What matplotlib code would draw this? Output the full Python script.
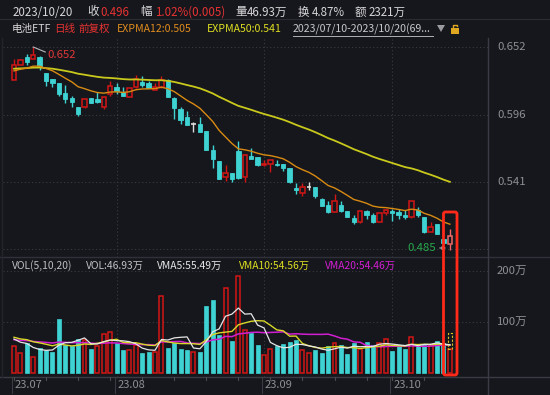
import matplotlib
matplotlib.use("Agg")
import matplotlib.pyplot as plt
import numpy as np
import pandas as pd
from matplotlib.patches import Rectangle, FancyBboxPatch, Polygon

plt.rcParams['font.family'] = ['Noto Sans CJK SC', 'DejaVu Sans']

# ---------------- data ----------------
opens = [0.625, 0.637, 0.644, 0.642, 0.644, 0.631, 0.626, 0.622, 0.614, 0.610,
         0.603, 0.603, 0.610, 0.609, 0.603, 0.613, 0.619, 0.615, 0.611, 0.619,
         0.623, 0.622, 0.617, 0.619, 0.625, 0.610, 0.601, 0.594, 0.589, 0.589,
         0.583, 0.567, 0.558, 0.545, 0.548, 0.566, 0.545, 0.562, 0.561, 0.555,
         0.556, 0.556, 0.556, 0.552, 0.536, 0.532, 0.537, 0.537, 0.527, 0.522,
         0.516, 0.522, 0.517, 0.511, 0.508, 0.517, 0.514, 0.508, 0.515, 0.517,
         0.516, 0.514, 0.512, 0.518, 0.512, 0.500, 0.506, 0.494, 0.490]
highs = [0.642, 0.642, 0.646, 0.652, 0.645, 0.631, 0.626, 0.622, 0.621, 0.612,
         0.603, 0.609, 0.610, 0.615, 0.611, 0.624, 0.622, 0.619, 0.618, 0.629,
         0.628, 0.624, 0.622, 0.628, 0.626, 0.611, 0.603, 0.599, 0.590, 0.594,
         0.583, 0.571, 0.558, 0.555, 0.548, 0.575, 0.564, 0.569, 0.561, 0.559,
         0.559, 0.559, 0.556, 0.552, 0.540, 0.540, 0.541, 0.537, 0.528, 0.525,
         0.531, 0.525, 0.517, 0.514, 0.517, 0.518, 0.515, 0.515, 0.519, 0.519,
         0.519, 0.518, 0.525, 0.520, 0.512, 0.508, 0.506, 0.494, 0.502]
lows = [0.625, 0.637, 0.637, 0.642, 0.633, 0.620, 0.619, 0.612, 0.606, 0.603,
        0.595, 0.602, 0.606, 0.606, 0.601, 0.612, 0.613, 0.612, 0.611, 0.618,
        0.619, 0.618, 0.617, 0.618, 0.611, 0.593, 0.589, 0.588, 0.582, 0.582,
        0.567, 0.552, 0.543, 0.542, 0.541, 0.543, 0.541, 0.560, 0.554, 0.554,
        0.549, 0.554, 0.550, 0.540, 0.531, 0.529, 0.534, 0.528, 0.521, 0.515,
        0.516, 0.516, 0.512, 0.506, 0.507, 0.510, 0.507, 0.508, 0.514, 0.509,
        0.510, 0.510, 0.511, 0.512, 0.499, 0.500, 0.498, 0.491, 0.485]
closes = [0.637, 0.641, 0.640, 0.645, 0.636, 0.624, 0.622, 0.613, 0.609, 0.607,
          0.597, 0.609, 0.606, 0.607, 0.611, 0.620, 0.616, 0.612, 0.618, 0.626,
          0.621, 0.618, 0.619, 0.625, 0.611, 0.602, 0.592, 0.588, 0.589, 0.582,
          0.567, 0.560, 0.543, 0.548, 0.543, 0.544, 0.563, 0.560, 0.555, 0.556,
          0.559, 0.555, 0.552, 0.541, 0.534, 0.537, 0.537, 0.529, 0.521, 0.516,
          0.525, 0.517, 0.512, 0.508, 0.517, 0.514, 0.508, 0.515, 0.518, 0.515,
          0.514, 0.512, 0.525, 0.514, 0.500, 0.504, 0.498, 0.491, 0.496]
volumes = [53, 38.6, 58, 30.8, 50, 45, 42, 105, 55, 53,
           66, 64.7, 48, 53, 76, 81, 59.5, 46, 45, 55,
           38.6, 42, 42, 151, 49.6, 59.5, 48, 46, 42, 42,
           131, 143, 74.5, 166, 63, 190, 84, 78, 55, 35,
           48, 52, 57, 60, 65, 45, 39, 46, 40, 53,
           59, 55, 37, 59, 48, 61, 55, 59, 66, 43,
           53, 48, 71, 53, 55, 54.5, 62.5, 58.5, 46.93]
ema12_prev = 0.6315   # EXPMA12 level just before the first day
ema50_prev = 0.634    # EXPMA50 level just before the first day
vma_prev = {5: 70, 10: 72, 20: 66}  # VMA levels at the left edge
est_volume_last = 78  # dashed estimate on the last volume bar

month_labels = ["23.07", "23.08", "23.09", "23.10"]
month_idx = [0, 16, 39, 59]
week_idx = [0, 5, 10, 15, 20, 25, 30, 35, 40, 45, 50, 55, 59, 64]
price_ticks = [0.652, 0.596, 0.541]
price_grid = [0.652, 0.596, 0.541, 0.4855]
vol_ticks = [200, 100]
vol_tick_labels = ["200万", "100万"]
high_label = "0.652"
low_label = "0.485"

# ---------------- style ----------------
BG = "#16171c"
RED = "#d21616"
CYAN = "#3fd2d2"
DOJI = "#dcdcdc"
GRID = "#3a3b42"
AXC = "#8e8e94"
W, H = 550, 395

fig = plt.figure(figsize=(W / 100, H / 100), dpi=100)
fig.patch.set_facecolor(BG)


def px_axes(x0, y0, x1, y1):
    ax = fig.add_axes([x0 / W, 1 - y1 / H, (x1 - x0) / W, (y1 - y0) / H])
    ax.set_facecolor(BG)
    for s in ax.spines.values():
        s.set_visible(False)
    ax.set_xticks([])
    ax.set_yticks([])
    return ax


n = len(closes)
idx = np.arange(n)
o = np.array(opens); h = np.array(highs); l = np.array(lows); c = np.array(closes)
v = np.array(volumes, dtype=float)

X0, DX = 14.0, 6.41
def ix(px):
    return (px - X0) / DX

def py(ypx):
    return 0.652 - (ypx - 47) * 0.056 / 68

PL, PR = 3, 488
axp = px_axes(PL, 38, PR, 257)
axp.set_xlim(ix(PL), ix(PR))
axp.set_ylim(py(257), py(38))

axv = px_axes(PL, 262, PR, 377)
axv.set_xlim(ix(PL), ix(PR))
def vy(ypx):
    return (373 - ypx) / 0.51
axv.set_ylim(vy(377), vy(262))

dot = (0, (1, 2.2))
for g in price_grid:
    axp.axhline(g, color=GRID, lw=0.8, ls=dot, zorder=0)
for g in vol_ticks:
    axv.axhline(g, color=GRID, lw=0.8, ls=dot, zorder=0)
for m in month_idx[1:]:
    axp.axvline(m, color=GRID, lw=0.8, ls=dot, zorder=0)
    axv.axvline(m, color=GRID, lw=0.8, ls=dot, zorder=0)

# candles
bw = 0.68
for i in idx:
    last = i == n - 1
    if abs(c[i] - o[i]) < 1e-9:
        axp.vlines(i, l[i], h[i], color=DOJI, lw=1.0, zorder=3)
        axp.hlines(c[i], i - bw / 2, i + bw / 2, color=DOJI, lw=1.2, zorder=3)
    elif c[i] > o[i]:
        col = "#f06a6a" if last else RED
        axp.vlines(i, c[i], h[i], color=col, lw=1.0, zorder=3)
        axp.vlines(i, l[i], o[i], color=col, lw=1.0, zorder=3)
        axp.add_patch(Rectangle((i - bw / 2, o[i]), bw, c[i] - o[i],
                                facecolor=BG, edgecolor=col, lw=1.1, zorder=3))
    else:
        axp.vlines(i, l[i], h[i], color=CYAN, lw=1.0, zorder=2)
        axp.add_patch(Rectangle((i - bw / 2, c[i]), bw, o[i] - c[i],
                                facecolor=CYAN, edgecolor=CYAN, lw=0.6, zorder=3))

def ema(vals, span, prev):
    a = 2.0 / (span + 1)
    out = []
    e = prev
    for x in vals:
        e = a * x + (1 - a) * e
        out.append(e)
    return np.array(out)

e12 = ema(c, 12, ema12_prev)
e50 = ema(c, 50, ema50_prev)
axp.plot(idx, e50, color="#c9c91c", lw=1.3, zorder=4)
axp.plot(idx, e12, color="#d88a12", lw=1.0, zorder=4)

# volume bars
vw = 0.62
prev_close = np.concatenate([[o[0]], c[:-1]])
for i in idx:
    up = c[i] >= prev_close[i]
    if up:
        axv.add_patch(Rectangle((i - vw / 2, 0), vw, v[i], facecolor=BG,
                                edgecolor=RED, lw=1.1, zorder=3))
    else:
        axv.add_patch(Rectangle((i - vw / 2, 0), vw, v[i], facecolor=CYAN,
                                edgecolor=CYAN, lw=0.5, zorder=3))
axv.add_patch(Rectangle((n - 1 - vw / 2, v[-1]), vw, est_volume_last - v[-1],
                        facecolor="none", edgecolor="#d8c020", lw=0.8,
                        ls=(0, (2, 1.5)), zorder=3))


def vma(vals, w, prev):
    out = []
    for i in range(len(vals)):
        k = min(w, i + 1)
        s = vals[i - k + 1:i + 1].sum() + (w - k) * prev
        out.append(s / w)
    return np.array(out)

vma5 = vma(v, 5, vma_prev[5])
vma10 = vma(v, 10, vma_prev[10])
vma20 = vma(v, 20, vma_prev[20])
axv.plot(idx, vma20, color="#d21ed2", lw=1.1, zorder=4)
axv.plot(idx, vma10, color="#d8d828", lw=1.0, zorder=4)
axv.plot(idx, vma5, color="#e6e6e6", lw=0.9, zorder=4)

# ---------------- overlay (pixel space) ----------------
ov = fig.add_axes([0, 0, 1, 1])
ov.set_xlim(0, W)
ov.set_ylim(H, 0)
ov.axis("off")
ov.patch.set_alpha(0)

def xpix(i):
    return X0 + DX * i

def ypix_price(p):
    return 47 + (0.652 - p) * 68 / 0.056

ov.plot([0, W], [18.5, 18.5], color="#2b2c33", lw=0.8)
ov.plot([0, W], [257, 257], color="#30313a", lw=1.0)
ov.plot([0, W], [377, 377], color="#3a3b44", lw=1.0)
ov.plot([488, 488], [38, H], color="#3a3b44", lw=1.0)
ov.plot([2, 2], [38, 377], color="#24252b", lw=1.0)

hs = 8.3
WHITE = "#d6d6d8"
HRED = "#e63232"
row1 = [(12.7, "2023/10/20", WHITE), (87, "收", WHITE), (100.7, "0.496", HRED),
        (140, "幅", WHITE), (155, "1.02%(0.005)", HRED), (235, "量", WHITE),
        (247, "46.93万", WHITE), (298, "换", WHITE), (312, "4.87%", WHITE),
        (355, "额", WHITE), (369, "2321万", WHITE)]
for x, t, col in row1:
    ov.text(x, 12, t, color=col, fontsize=hs, va="center", ha="left")

r2 = 7.6
row2 = [(11.7, "电池ETF", WHITE), (54, "日线", HRED), (78, "前复权", HRED),
        (117, "EXPMA12:0.505", "#e08c1c"), (207, "EXPMA50:0.541", "#dede22"),
        (293, "2023/07/10-2023/10/20(69...", "#c8c8cc")]
for x, t, col in row2:
    ov.text(x, 29, t, color=col, fontsize=r2, va="center", ha="left")
ov.plot([293, 433], [35.5, 35.5], color="#b0b0b4", lw=0.7)
ov.add_patch(Polygon([[437, 25], [445, 25], [441, 32]], closed=True,
                     facecolor="#9a9aa0", edgecolor="none"))
ov.add_patch(Rectangle((451, 28), 8, 6, facecolor="#e0a820", edgecolor="none"))
ov.plot([453, 453, 457, 457], [28, 24.5, 24.5, 26], color="#e0a820", lw=1.0)

for p in price_ticks:
    ov.text(497, ypix_price(p), f"{p:.3f}", color=AXC, fontsize=8.2,
            va="center", ha="left")
for val, lab in zip(vol_ticks, vol_tick_labels):
    ov.text(497, 373 - val * 0.51, lab, color=AXC, fontsize=8.2,
            va="center", ha="left")

for m, lab in zip(month_idx, month_labels):
    xp = xpix(m) - 2 if m else 12
    ov.plot([xp, xp], [377, 393], color="#3a3b44", lw=0.8)
    ov.text(xp + 3, 385, lab, color=AXC, fontsize=8.0, va="center", ha="left")
for w in week_idx:
    xp = xpix(w)
    ov.plot([xp, xp], [377, 380], color="#4a4b54", lw=0.8)

vl = 7.4
vrow = [(11.7, "VOL(5,10,20)", "#c0c0c4"), (86, "VOL:46.93万", "#c0c0c4"),
        (157, "VMA5:55.49万", "#e6e6e6"), (239, "VMA10:54.56万", "#dede22"),
        (325, "VMA20:54.46万", "#d21ed2")]
for x, t, col in vrow:
    ov.text(x, 266, t, color=col, fontsize=vl, va="center", ha="left")

ih = int(np.argmax(h))
ov.plot([xpix(ih), xpix(ih) + 12], [ypix_price(h[ih]), ypix_price(h[ih]) + 5],
        color="#b8b8bc", lw=0.8)
ov.text(47, 54.5, high_label, color="#e03838", fontsize=8.2, va="center", ha="left")
il = int(np.argmin(l))
ov.text(436, 248, low_label, color="#26a84c", fontsize=8.2, va="center", ha="right")
ov.annotate("", xy=(xpix(il) - 1, 248), xytext=(437, 248),
            arrowprops=dict(arrowstyle="-|>", color="#b8b8bc", lw=0.8,
                            mutation_scale=5))

ov.add_patch(FancyBboxPatch((443.5, 212), 13.5, 163,
                            boxstyle="round,pad=0,rounding_size=2",
                            facecolor="none", edgecolor="#ff2a1a", lw=2.0,
                            zorder=10))

fig.savefig("out.png", dpi=100, facecolor=BG)
